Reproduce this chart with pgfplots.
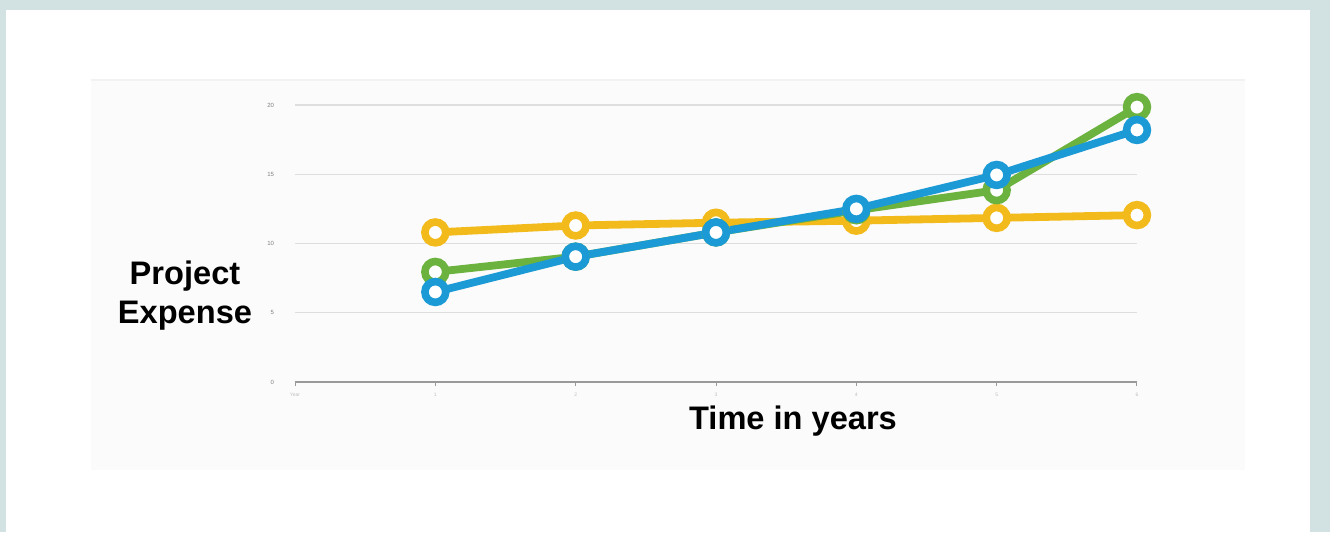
\documentclass[border=0pt]{standalone}
\usepackage{pgfplots}
\pgfplotsset{compat=1.18}
\usepackage{fontspec}
\setmainfont{Liberation Sans}
\definecolor{cyel}{HTML}{F2BA1A}
\definecolor{cgrn}{HTML}{6BB23F}
\definecolor{cblu}{HTML}{1B9AD6}
\definecolor{cframe}{HTML}{D2E1E2}
\begin{document}
\begin{tikzpicture}
\useasboundingbox (0,0) rectangle (665pt,266pt);
\fill[cframe] (0,0) rectangle (665pt,266pt);
\fill[white] (3pt,0) rectangle (655pt,261pt);
\fill[black!1.5] (45.5pt,31pt) rectangle (622.5pt,226pt);
\draw[black!5, line width=0.6pt] (45.5pt,226pt) -- (622.5pt,226pt);
\begin{axis}[
  at={(147.5pt,75pt)}, anchor=south west,
  scale only axis, width=421pt, height=138.5pt,
  xmin=0, xmax=6, ymin=0, ymax=20,
  axis x line*=bottom, axis y line*=left,
  x axis line style={-, draw=gray!80, line width=0.9pt},
  y axis line style={draw=none},
  ytick={0,5,10,15,20},
  xtick={0,1,2,3,4,5,6},
  xticklabels={Year,1,2,3,4,5,6},
  ymajorgrids, grid style={black!13, line width=0.6pt},
  major tick length=2pt,
  ytick style={draw=none},
  xtick style={gray!80, line width=0.5pt},
  tick align=outside,
  yticklabel style={font=\fontsize{3}{3}\selectfont, text=gray, xshift=-5pt},
  xticklabel style={font=\fontsize{2.5}{3}\selectfont, text=gray!50},
  /pgf/number format/assume math mode=true,
  clip=false,
  every axis plot/.append style={line width=3.9pt, mark=*, mark size=5.2pt,
    mark options={fill=white, line width=3.8pt}},
]
\addplot[cyel] coordinates {(1,10.8) (2,11.3) (3,11.5) (4,11.65) (5,11.85) (6,12.05)};
\addplot[cgrn] coordinates {(1,7.95) (2,9.05) (3,10.8) (4,12.4) (5,13.85) (6,19.85)};
\addplot[cblu] coordinates {(1,6.5) (2,9.05) (3,10.8) (4,12.5) (5,14.95) (6,18.2)};
\end{axis}
\node[font=\fontsize{16.3}{19.5}\selectfont\bfseries, align=center] at (92.5pt,118pt) {Project\\Expense};
\node[font=\fontsize{16.3}{19}\selectfont\bfseries] at (396.5pt,55.5pt) {Time in years};
\end{tikzpicture}
\end{document}
